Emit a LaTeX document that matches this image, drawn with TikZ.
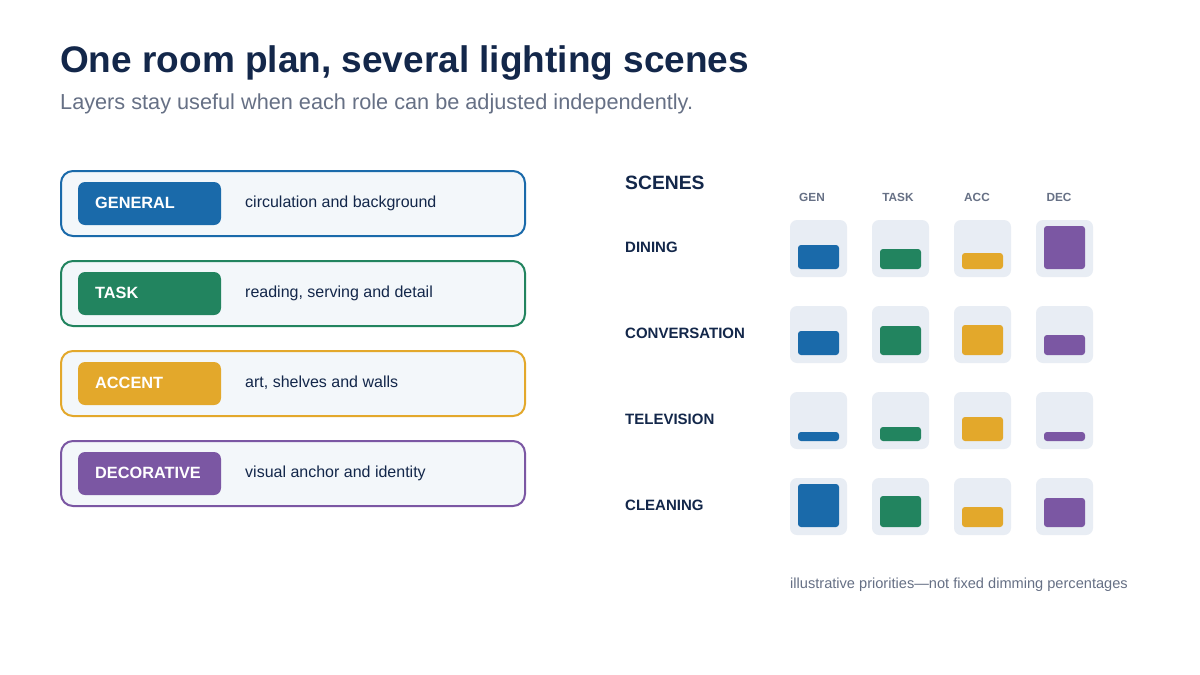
\documentclass[tikz,border=0pt]{standalone}
\usepackage{fontspec}
\setmainfont{Liberation Sans}
\definecolor{navy}{HTML}{13274A}
\definecolor{gry}{HTML}{667085}
\definecolor{cA}{HTML}{1A6AAA}
\definecolor{cB}{HTML}{22845F}
\definecolor{cC}{HTML}{E3A82B}
\definecolor{cD}{HTML}{7B57A3}
\definecolor{boxbg}{HTML}{F3F7FA}
\definecolor{tile}{HTML}{E8EDF4}
\begin{document}
\begin{tikzpicture}[x=1pt,y=-1pt,
  lay/.style={draw=#1,line width=2pt,fill=boxbg,rounded corners=12pt},
  pill/.style={fill=#1,rounded corners=7pt},
  tl/.style={fill=tile,rounded corners=7pt},
  bar/.style={fill=#1,rounded corners=3pt},
  txt/.style={anchor=west,inner sep=0pt,font=\fontsize{16pt}{19pt}\selectfont,text=navy},
  ptxt/.style={anchor=west,inner sep=0pt,font=\fontsize{16.3pt}{19pt}\selectfont\bfseries,text=white},
  rl/.style={anchor=west,inner sep=0pt,font=\fontsize{15pt}{18pt}\selectfont\bfseries,text=navy},
  ch/.style={anchor=center,inner sep=0pt,font=\fontsize{11.8pt}{14pt}\selectfont\bfseries,text=gry}]
\useasboundingbox (0,0) rectangle (1200,675);
\fill[white] (0,0) rectangle (1200,675);
\node[anchor=west,inner sep=0pt,font=\fontsize{37pt}{42pt}\selectfont\bfseries,text=navy] (title) at (60,63) {One room plan, several lighting scenes};
\node[anchor=west,inner sep=0pt,font=\fontsize{21.7pt}{25pt}\selectfont,text=gry] (sub) at (60,104) {Layers stay useful when each role can be adjusted independently.};
\foreach \y/\c/\n/\d [count=\i] in {171/cA/GENERAL/circulation and background,261/cB/TASK/{reading, serving and detail},351/cC/ACCENT/{art, shelves and walls},441/cD/DECORATIVE/visual anchor and identity}{
  \draw[lay=\c] (61,\y) rectangle (525,\y+65);
  \fill[pill=\c] (78,\y+11) rectangle (221,\y+54);
  \node[ptxt] (p\i) at (95,\y+32) {\n};
  \node[txt] (d\i) at (245,\y+32) {\d};
}
\node[anchor=west,inner sep=0pt,font=\fontsize{19.3pt}{22pt}\selectfont\bfseries,text=navy] (sc) at (625,183) {SCENES};
\foreach \x/\n in {812/GEN,898/TASK,977/ACC,1059/DEC}{\node[ch] (h\n) at (\x,197) {\n};}
\foreach \t/\n/\a/\b/\c/\d in {220/DINING/24/20/16/43,306/CONVERSATION/24/29/30/20,392/TELEVISION/9/14/24/9,478/CLEANING/43/31/20/29}{
  \node[rl] (r\n) at (625,\t+27) {\n};
  \foreach \x/\h/\col in {790/\a/cA,872/\b/cB,954/\c/cC,1036/\d/cD}{
    \fill[tl] (\x,\t) rectangle (\x+57,\t+57);
    \fill[bar=\col] (\x+8,\t+49-\h) rectangle (\x+49,\t+49);
  }
}
\node[anchor=west,inner sep=0pt,font=\fontsize{14.6pt}{17pt}\selectfont,text=gry] (fn) at (790,585) {illustrative priorities—not fixed dimming percentages};
\end{tikzpicture}
\end{document}
